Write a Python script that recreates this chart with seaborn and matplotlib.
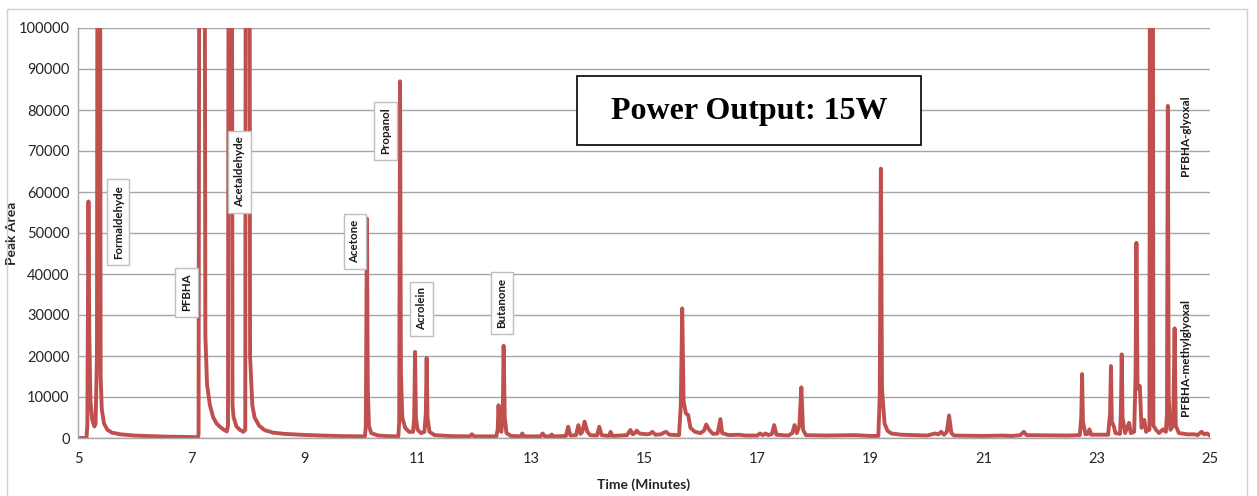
import matplotlib
matplotlib.use("Agg")
import matplotlib.pyplot as plt
import seaborn as sns
import pandas as pd
from matplotlib.lines import Line2D
from matplotlib.patches import Rectangle

# ---- data (time in minutes, peak area) ----
trace_time = [
    5.00, 5.15, 5.165, 5.185, 5.20, 5.22, 5.25, 5.29, 5.31, 5.335, 5.365, 5.40, 5.42, 5.46, 5.52, 5.60,
    5.75, 6.00, 6.50, 7.00, 7.12, 7.13, 7.19, 7.25, 7.28, 7.33, 7.39, 7.45, 7.51, 7.58, 7.63, 7.65,
    7.69, 7.73, 7.75, 7.80, 7.86, 7.92, 7.955, 7.995, 8.04, 8.08, 8.12, 8.20, 8.30, 8.45, 8.65, 9.00,
    9.30, 9.70, 10.07, 10.085, 10.105, 10.12, 10.14, 10.18, 10.30, 10.50, 10.66, 10.675, 10.69, 10.705,
    10.73, 10.78, 10.85, 10.92, 10.94, 10.955, 10.97, 11.00, 11.06, 11.12, 11.145, 11.16, 11.175, 11.21,
    11.30, 11.60, 11.92, 11.96, 12.00, 12.39, 12.415, 12.43, 12.45, 12.48, 12.505, 12.52, 12.54, 12.57,
    12.65, 12.82, 12.85, 12.88, 13.17, 13.21, 13.25, 13.34, 13.37, 13.40, 13.62, 13.66, 13.70, 13.80,
    13.84, 13.88, 13.91, 13.95, 14.00, 14.05, 14.17, 14.21, 14.25, 14.38, 14.41, 14.44, 14.70, 14.76,
    14.80, 14.84, 14.87, 14.92, 15.05, 15.10, 15.15, 15.20, 15.30, 15.35, 15.39, 15.45, 15.62, 15.65,
    15.675, 15.70, 15.74, 15.78, 15.82, 15.90, 16.00, 16.06, 16.10, 16.15, 16.22, 16.30, 16.35, 16.38,
    16.50, 16.67, 16.80, 17.00, 17.05, 17.10, 17.15, 17.20, 17.26, 17.30, 17.34, 17.55, 17.62, 17.66,
    17.70, 17.745, 17.78, 17.81, 17.86, 18.20, 18.73, 19.00, 19.14, 19.165, 19.185, 19.205, 19.25, 19.30,
    19.37, 19.55, 20.00, 20.14, 20.20, 20.25, 20.30, 20.35, 20.39, 20.43, 20.48, 21.00, 21.34, 21.50,
    21.65, 21.71, 21.76, 22.49, 22.70, 22.725, 22.74, 22.755, 22.80, 22.84, 22.87, 22.90, 23.20, 23.235,
    23.25, 23.265, 23.30, 23.33, 23.41, 23.425, 23.44, 23.455, 23.50, 23.55, 23.57, 23.60, 23.66, 23.685,
    23.70, 23.72, 23.76, 23.79, 23.84, 23.87, 23.91, 23.93, 23.965, 24.00, 24.05, 24.10, 24.17, 24.22,
    24.24, 24.255, 24.27, 24.30, 24.35, 24.375, 24.395, 24.45, 24.50, 24.60, 24.73, 24.78, 24.85, 24.90,
    24.95, 25.00,
]
trace_area = [
    0, 0, 3000, 57700, 25000, 9000, 4500, 2800, 3500, 20000, 400000, 15000, 7000, 3500, 2000, 1300,
    900, 600, 350, 250, 200, 1000, 600000, 25000, 13000, 8000, 5000, 3500, 2700, 2000, 1600, 3000,
    500000, 8000, 5000, 2800, 2000, 1500, 2000, 600000, 20000, 8000, 5000, 3000, 1900, 1300, 1000, 750,
    600, 450, 400, 3000, 53500, 12000, 3000, 1200, 600, 450, 400, 4000, 87000, 16000,
    5000, 2500, 1500, 1500, 5000, 21000, 5000, 2000, 1200, 1500, 6000, 19500, 5000, 1500,
    700, 450, 400, 900, 400, 400, 2000, 8000, 2000, 1500, 6000, 22500, 5000, 1200,
    500, 400, 1100, 400, 400, 1100, 400, 400, 850, 400, 500, 2750, 600, 700,
    3150, 1000, 1500, 4000, 1500, 700, 600, 2750, 700, 500, 1500, 500, 700, 1950,
    900, 1200, 1800, 1100, 900, 1000, 1500, 800, 900, 1300, 1500, 800, 700, 8000,
    31600, 9000, 6000, 5600, 2500, 1500, 1200, 1800, 3300, 2000, 1000, 1100, 4600, 1200,
    700, 800, 600, 600, 1100, 700, 1100, 700, 1000, 3150, 800, 600, 1200, 3150,
    1200, 3000, 12350, 2000, 700, 600, 700, 500, 500, 10000, 65700, 12000, 3600, 1800,
    1100, 800, 600, 1100, 900, 1500, 800, 1500, 5500, 1200, 600, 500, 600, 500,
    700, 1500, 700, 600, 700, 5000, 15600, 4000, 900, 1000, 2100, 800, 800, 6000,
    17550, 4000, 2900, 1200, 1000, 6000, 20400, 5000, 1200, 3000, 3700, 1200, 1500, 15000,
    47600, 12000, 12700, 2500, 4400, 1500, 2000, 2000, 500000, 3000, 1950, 1200, 2100, 1500,
    6000, 81000, 10000, 2000, 3000, 26750, 3000, 1200, 1100, 900, 900, 700, 1500, 900,
    1100, 600,
]

boxed_labels = ["Formaldehyde", "PFBHA", "Acetaldehyde", "Acetone", "Propanol", "Acrolein", "Butanone"]
boxed_label_time = [5.71, 6.92, 7.85, 9.89, 10.43, 11.07, 12.49]
boxed_label_area = [52700, 35500, 64900, 48000, 74900, 31500, 32900]

free_labels = ["PFBHA-glyoxal", "PFBHA-methylglyoxal"]
free_label_time = [24.56, 24.56]
free_label_area = [73800, 19600]

x_ticks = [5, 7, 9, 11, 13, 15, 17, 19, 21, 23, 25]
y_ticks = [0, 10000, 20000, 30000, 40000, 50000, 60000, 70000, 80000, 90000, 100000]

title_text = "Power Output: 15W"

# ---- drawing ----
sns.set_theme(style="white")
plt.rcParams["font.family"] = ["Lato", "DejaVu Sans"]

W, H = 1257, 496
fig = plt.figure(figsize=(W / 100, H / 100), dpi=100)
ax = fig.add_axes([78 / W, 1 - 438 / H, (1210 - 78) / W, (438 - 28) / H])

df = pd.DataFrame({"Time (Minutes)": trace_time, "Peak Area": trace_area})
sns.lineplot(data=df, x="Time (Minutes)", y="Peak Area", ax=ax, color="#C0504D",
             linewidth=2.8, estimator=None, sort=False)

ax.set_xlim(5, 25)
ax.set_ylim(0, 100000)
ax.set_xticks(x_ticks)
ax.set_yticks(y_ticks)
ax.set_xticklabels([str(v) for v in x_ticks], fontsize=10.5, color="#262626")
ax.set_yticklabels([str(v) for v in y_ticks], fontsize=10.5, color="#262626")
ax.yaxis.grid(True, color="#A6A6A6", linewidth=1)
ax.xaxis.grid(False)
ax.set_axisbelow(True)
ax.tick_params(axis="x", direction="out", length=4, width=1, color="#A6A6A6", pad=6)
ax.tick_params(axis="y", length=0, pad=6)
for side in ["top", "right"]:
    ax.spines[side].set_visible(False)
for side in ["left", "bottom"]:
    ax.spines[side].set_color("#A6A6A6")
    ax.spines[side].set_linewidth(1)

ax.set_xlabel("Time (Minutes)", fontsize=10, fontweight="bold", color="#262626")
ax.set_ylabel("Peak Area", fontsize=10, fontweight="bold", color="#262626")
ax.xaxis.set_label_coords(0.5, -(478 - 438) / 410)
ax.yaxis.set_label_coords((18 - 78) / 1132, 0.5)

for lab, t, a in zip(boxed_labels, boxed_label_time, boxed_label_area):
    ax.text(t, a, lab, rotation=90, ha="center", va="center", fontsize=8.3, fontweight="bold",
            color="#1a1a1a",
            bbox=dict(boxstyle="square,pad=0.5", facecolor="white", edgecolor="#BFBFBF", linewidth=1))

for lab, t, a in zip(free_labels, free_label_time, free_label_area):
    ax.text(t, a, lab, rotation=90, ha="center", va="center", fontsize=8.5, fontweight="bold",
            color="#1a1a1a")

# title box
fig.add_artist(Rectangle((577 / W, 1 - 145 / H), (921 - 577) / W, (145 - 76) / H,
                         transform=fig.transFigure, facecolor="white", edgecolor="black", lw=1.2, zorder=5))
fig.text((577 + 921) / 2 / W, 1 - 111 / H, title_text, ha="center", va="center",
         fontsize=23, fontweight="bold", family="Liberation Serif", color="black", zorder=6)

# outer chart frame
fig.add_artist(Line2D([7 / W, 7 / W], [0, 1 - 9 / H], transform=fig.transFigure, color="#D0D0D0", lw=1))
fig.add_artist(Line2D([7 / W, 1247 / W], [1 - 9 / H, 1 - 9 / H], transform=fig.transFigure, color="#D0D0D0", lw=1))
fig.add_artist(Line2D([1247 / W, 1247 / W], [0, 1 - 9 / H], transform=fig.transFigure, color="#D0D0D0", lw=1))

fig.savefig("out.png", dpi=100, facecolor="white")
